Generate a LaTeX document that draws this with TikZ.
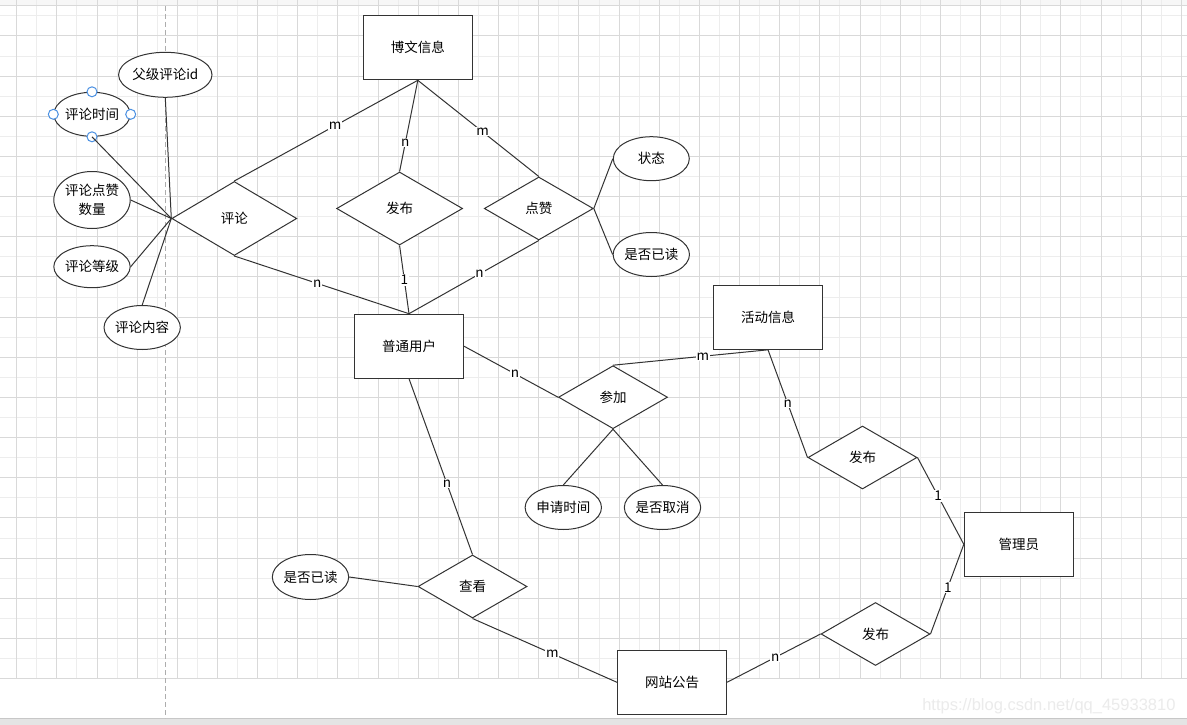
\documentclass[tikz,border=0pt]{standalone}
\usepackage{fontspec}
\setmainfont{Noto Sans CJK SC}
\newfontfamily\wmfont{Liberation Sans}
\usetikzlibrary{shapes.geometric}
\definecolor{gridD}{HTML}{D9D9D9}
\definecolor{gridL}{HTML}{EDEDED}
\definecolor{edgec}{HTML}{333333}
\definecolor{handlec}{HTML}{4A90E2}
\definecolor{wmc}{HTML}{EBEBEB}
\definecolor{topc}{HTML}{F7F7F7}
\definecolor{botc}{HTML}{E4E4E4}
\newcommand\dfont{\fontsize{13.5}{19.5}\selectfont}
\begin{document}
\begin{tikzpicture}[x=1pt,y=-1pt,
  ent/.style={draw=edgec, line width=1pt, fill=white, minimum width=109pt, minimum height=64pt, inner sep=0pt, font=\dfont},
  rel/.style={diamond, draw=edgec, line width=1pt, fill=white, minimum width=109pt, minimum height=63pt, inner sep=0pt, aspect=1.7, font=\dfont},
  attr/.style={ellipse, draw=edgec, line width=1pt, fill=white, minimum width=76pt, minimum height=44pt, inner sep=0pt, font=\dfont},
  conn/.style={draw=edgec, line width=1pt},
  lbl/.style={fill=white, inner sep=0.8pt, font=\dfont}]
\useasboundingbox (0,0) rectangle (1187,725);
\fill[white] (0,0) rectangle (1187,725);
\fill[topc] (0,0) rectangle (1187,6);
% grid
\foreach \k in {1,3,...,57}{\pgfmathsetmacro\xx{16.7+20.08*\k}\draw[gridL,line width=1pt] (\xx,0) -- (\xx,678.3);}
\foreach \k in {-1,1,...,31}{\pgfmathsetmacro\yy{36+20.08*\k}\draw[gridL,line width=1pt] (0,\yy) -- (1187,\yy);}
\foreach \k in {0,2,...,58}{\pgfmathsetmacro\xx{16.7+20.08*\k}\draw[gridD,line width=1pt] (\xx,0) -- (\xx,678.3);}
\foreach \k in {0,2,...,32}{\pgfmathsetmacro\yy{36+20.08*\k}\draw[gridD,line width=1pt] (0,\yy) -- (1187,\yy);}
\draw[gridD,line width=1pt] (0,6) -- (1187,6);
\fill[botc] (0,718.3) rectangle (1187,725);
\draw[black!22,line width=1pt] (0,718.3) -- (1187,718.3);
\draw[black!32,line width=1pt,dash pattern=on 5pt off 3pt] (165.7,6) -- (165.7,718);
\node[anchor=east, text=wmc, font=\wmfont\fontsize{16.5}{18}\selectfont] (wm) at (1179,706.5) {https://blog.csdn.net/qq\_45933810};

% entities
\node[ent] (bw) at (417.8,47.8) {博文信息};
\node[ent] (yh) at (409,346.2) {普通用户};
\node[ent] (hd) at (768,317.3) {活动信息};
\node[ent] (gl) at (1018.8,544.3) {管理员};
\node[ent] (gg) at (672,682.3) {网站公告};

% relations
\node[rel, minimum width=125pt, minimum height=74pt] (pl) at (234.3,218.5) {评论};
\node[rel, minimum width=126pt, minimum height=73pt] (fb1) at (399.6,208.5) {发布};
\node[rel] (dz) at (538.8,208.5) {点赞};
\node[rel] (cj) at (613,397.2) {参加};
\node[rel] (fb2) at (862.5,457.5) {发布};
\node[rel] (ck) at (472.5,586.5) {查看};
\node[rel] (fb3) at (875.5,634) {发布};

% attributes
\node[attr, minimum height=45pt] (a1) at (165.3,74.8) {父级评论id};
\node[attr] (a2) at (92,114.3) {评论时间};
\node[attr, minimum height=57pt, align=center] (a3) at (92,200) {评论点赞\\数量};
\node[attr, minimum height=42pt] (a4) at (92,266.7) {评论等级};
\node[attr] (a5) at (142.2,327.5) {评论内容};
\node[attr] (zt) at (651.3,158.7) {状态};
\node[attr] (yd1) at (651.3,254.5) {是否已读};
\node[attr] (sq) at (563.3,507.5) {申请时间};
\node[attr] (qx) at (662.5,507.5) {是否取消};
\node[attr, minimum height=45pt] (yd2) at (310.5,577) {是否已读};

% selection handles
\foreach \a in {north,south,east,west}{\draw[handlec, fill=white, line width=1pt] (a2.\a) circle (5pt);}

% attribute connectors
\draw[conn] (a1.south) -- (pl.west);
\draw[conn] (a2.south) -- (pl.west);
\draw[conn] (a3.east) -- (pl.west);
\draw[conn] (a4.east) -- (pl.west);
\draw[conn] (a5.north) -- (pl.west);
\draw[conn] (dz.east) -- (zt.west);
\draw[conn] (dz.east) -- (yd1.west);
\draw[conn] (cj.south) -- (sq.north);
\draw[conn] (cj.south) -- (qx.north);
\draw[conn] (ck.west) -- (yd2.east);

% relationship connectors
\draw[conn] (pl.north) -- node[lbl, pos=0.55] {m} (bw.south);
\draw[conn] (pl.south) -- node[lbl, pos=0.475] {n} (yh.north);
\draw[conn] (fb1.north) -- node[lbl, pos=0.314] {n} (bw.south);
\draw[conn] (fb1.south) -- node[lbl, pos=0.507] {1} (yh.north);
\draw[conn] (dz.north) -- node[lbl, pos=0.465] {m} (bw.south);
\draw[conn] (dz.south) -- node[lbl, pos=0.456] {n} (yh.north);
\draw[conn] (yh.east) -- node[lbl, pos=0.543] {n} (cj.west);
\draw[conn] (cj.north) -- node[lbl, pos=0.58] {m} (hd.south);
\draw[conn] (hd.south) -- node[lbl, pos=0.5] {n} (fb2.west);
\draw[conn] (fb2.east) -- node[lbl, pos=0.443] {1} (gl.west);
\draw[conn] (gl.west) -- node[lbl, pos=0.48] {1} (fb3.east);
\draw[conn] (fb3.west) -- node[lbl, pos=0.483] {n} (gg.east);
\draw[conn] (yh.south) -- node[lbl, pos=0.597] {n} (ck.north);
\draw[conn] (ck.south) -- node[lbl, pos=0.552] {m} (gg.west);
\end{tikzpicture}
\end{document}
